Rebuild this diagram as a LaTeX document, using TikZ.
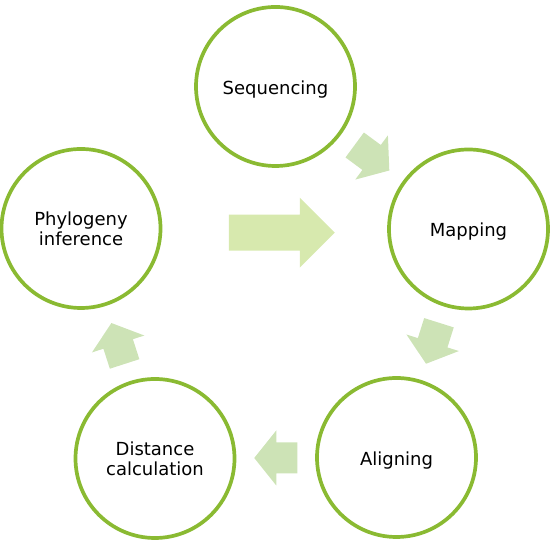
\documentclass[tikz,border=0pt]{standalone}
\usepackage{fontspec}
\setmainfont{DejaVu Sans}
\usepackage{tikz}
\usetikzlibrary{calc}
\definecolor{stagegreen}{RGB}{138,186,50}
\definecolor{arrowgreen}{RGB}{205,227,182}
\definecolor{flowgreen}{RGB}{215,233,174}

\begin{document}
\begin{tikzpicture}[x=1pt, y=1pt,
  stage/.style={circle, draw=stagegreen, line width=3.7pt, fill=white,
    minimum size=159pt, inner sep=0pt, align=center,
    font=\fontsize{18}{20}\selectfont},
  oneline/.style={text height=16pt, text depth=0pt},
  pics/steparrow/.style={code={
    \fill[arrowgreen] (-21.5,-15.5) -- (-0.5,-15.5) -- (-0.5,-27.5) -- (21.5,0)
      -- (-0.5,27.5) -- (-0.5,15.5) -- (-21.5,15.5) -- cycle;}},
  pics/flowarrow/.style={code={
    \fill[flowgreen] (-53,-18) -- (18,-18) -- (18,-35) -- (53,0)
      -- (18,35) -- (18,18) -- (-53,18) -- cycle;}}]
  \useasboundingbox (0,0) rectangle (552,545);

  % Stages
  \node[stage, oneline] (seq) at (275.5, 458.5) {Sequencing};
  \node[stage, oneline] (map) at (468.5, 316) {Mapping};
  \node[stage, oneline] (ali) at (396.5, 87.5) {Aligning};
  \node[stage] (dis) at (155, 86.5) {Distance\\calculation};
  \node[stage] (phy) at (81, 316.5) {Phylogeny\\inference};

  % Arrows between neighbouring stages
  \pic[rotate=-36.4] at ($(seq)!0.5!(map)$) {steparrow};
  \pic[rotate=-107.5] at ($(map)!0.5!(ali)$) {steparrow};
  \pic[rotate=180] at ($(ali)!0.5!(dis)$) {steparrow};
  \pic[rotate=107.9] at ($(dis)!0.5!(phy)$) {steparrow};

  % Big arrow in the middle
  \coordinate (mid) at ($(phy)!0.5!(map)+(7,-4)$);
  \pic at (mid) {flowarrow};
\end{tikzpicture}
\end{document}
